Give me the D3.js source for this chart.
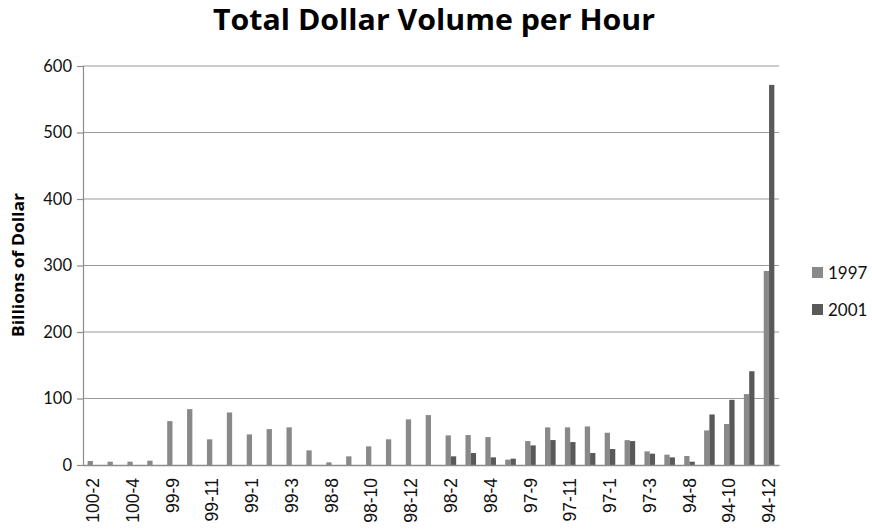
<!DOCTYPE html>
<html>
<head>
<meta charset="utf-8">
<script src="https://cdn.jsdelivr.net/npm/d3@7"></script>
<style>
  html, body { margin: 0; padding: 0; background: #fff; }
  svg { display: block; font-family: Lato, "Open Sans", sans-serif; }
</style>
</head>
<body>
<svg id="chart" width="872" height="530"></svg>
<script>
const categories = ["100-2","100-3","100-4","100-5","99-9","99-10","99-11","99-12","99-1","99-2","99-3","99-4",
  "98-8","98-9","98-10","98-11","98-12","98-1","98-2","98-3","98-4","98-5","97-9","97-10","97-11","97-12",
  "97-1","97-2","97-3","97-4","94-8","94-9","94-10","94-11","94-12"];
const seriesNames = ["1997", "2001"];
const values1997 = [6, 5, 5, 6.5, 66, 84, 38.6, 79, 46, 54, 56.6, 22, 4, 13, 28, 38.6, 68.6, 75,
  44.5, 45, 42, 8, 36, 56.6, 56.6, 58, 48.5, 37.4, 20.5, 15.5, 13.5, 52, 61.6, 106.6, 291.8];
const values2001 = [0, 0, 0, 0, 0, 0, 0, 0, 0, 0, 0, 0, 0, 0, 0, 0, 0, 0,
  13, 18, 11.5, 9.5, 29.5, 37.5, 34.5, 18, 24, 36, 17, 11.5, 5, 76, 98, 141, 571.6];
const yTicks = [0, 100, 200, 300, 400, 500, 600];
const colors = ["#898989", "#595959"];

const svg = d3.select("#chart");
const mLeft = 83, mRight = 779, mTop = 66, mBottom = 465;

const x = d3.scaleBand().domain(categories).range([mLeft, mRight]).paddingInner(0).paddingOuter(0);
const x1 = d3.scaleBand().domain(seriesNames).range([0, x.bandwidth()]).paddingInner(0).paddingOuter(0.875);
const y = d3.scaleLinear().domain([0, 600]).range([mBottom, mTop]);

// gridlines
svg.append("g").selectAll("line").data(yTicks.filter(d => d > 0)).join("line")
  .attr("x1", mLeft).attr("x2", mRight)
  .attr("y1", d => y(d)).attr("y2", d => y(d))
  .attr("stroke", "#9a9a9a").attr("stroke-width", 1.2);

// bars
const rows = categories.map((c, i) => ({c, vals: [values1997[i], values2001[i]]}));
const g = svg.append("g");
rows.forEach(r => {
  r.vals.forEach((v, j) => {
    if (!v) return;
    g.append("rect")
      .attr("x", x(r.c) + x1(seriesNames[j]))
      .attr("width", x1.bandwidth())
      .attr("y", y(v))
      .attr("height", y(0) - y(v))
      .attr("fill", colors[j]);
  });
});

// y axis
const yAxis = svg.append("g").attr("transform", `translate(${mLeft},0)`)
  .call(d3.axisLeft(y).tickValues(yTicks).tickSize(6).tickPadding(5));
yAxis.select(".domain").attr("stroke", "#8c8c8c").attr("stroke-width", 1.2);
yAxis.selectAll(".tick line").attr("stroke", "#8c8c8c").attr("stroke-width", 1.2);
yAxis.selectAll("text").attr("font-size", 16.5).attr("fill", "#111").attr("font-family", "Lato, sans-serif");

// x axis
const xAxis = svg.append("g").attr("transform", `translate(0,${mBottom})`)
  .call(d3.axisBottom(x).tickValues(categories.filter((d, i) => i % 2 === 0)).tickSize(0).tickPadding(0));
xAxis.select(".domain").attr("stroke", "#8c8c8c").attr("stroke-width", 1.5);
xAxis.selectAll("text")
  .attr("font-size", 17.5).attr("fill", "#111").attr("font-family", "'Liberation Sans', Arial, sans-serif")
  .attr("transform", "rotate(-90)")
  .attr("text-anchor", "end")
  .attr("x", -13).attr("y", 0).attr("dy", "0.35em");

// title
svg.append("text").attr("x", 434).attr("y", 30).attr("text-anchor", "middle")
  .attr("font-family", "'Open Sans', sans-serif")
  .attr("font-size", 28).attr("font-weight", "bold").attr("fill", "#000")
  .attr("textLength", 442).attr("lengthAdjust", "spacingAndGlyphs")
  .text("Total Dollar Volume per Hour");

// y title
svg.append("text").attr("transform", `translate(24,265) rotate(-90)`)
  .attr("text-anchor", "middle").attr("font-family", "'Open Sans', sans-serif")
  .attr("font-size", 15.5).attr("font-weight", "bold").attr("fill", "#000")
  .attr("textLength", 144).attr("lengthAdjust", "spacingAndGlyphs")
  .text("Billions of Dollar");

// legend
const leg = svg.append("g");
seriesNames.forEach((s, i) => {
  const cy = 273 + i * 37;
  leg.append("rect").attr("x", 812).attr("y", cy - 6).attr("width", 11).attr("height", 11).attr("fill", colors[i]);
  leg.append("text").attr("x", 828).attr("y", cy).attr("dy", "0.35em")
    .attr("font-size", 17).attr("fill", "#111").text(s);
});
</script>
</body>
</html>
